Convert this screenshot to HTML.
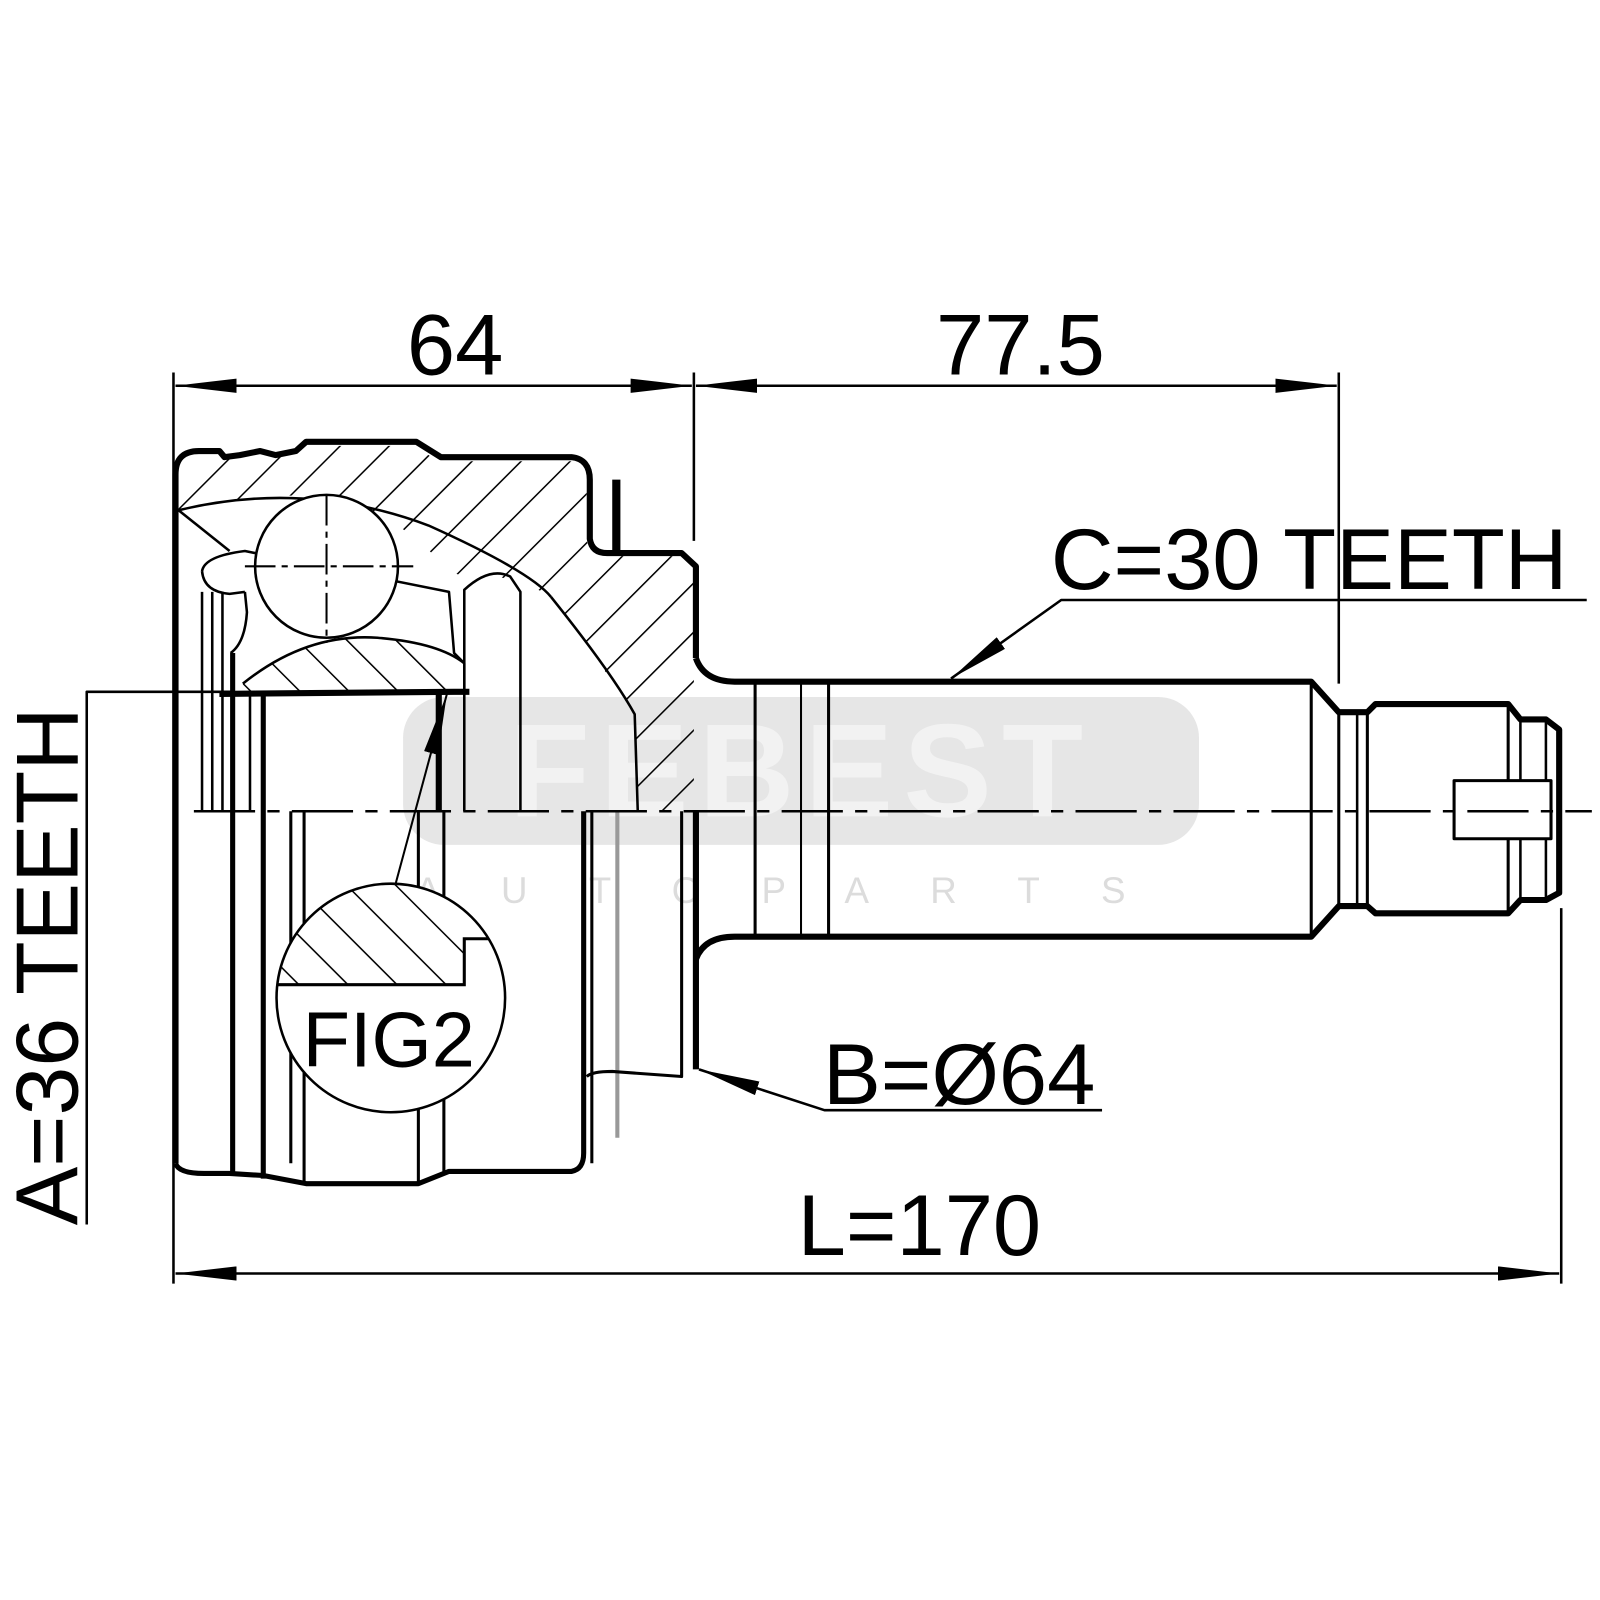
<!DOCTYPE html>
<html><head><meta charset="utf-8"><style>
html,body{margin:0;padding:0;background:#fff;}
svg{display:block;}
text{font-family:"Liberation Sans",sans-serif;fill:#000;}
</style></head><body>
<svg width="1600" height="1600" viewBox="0 0 1568 1568" xmlns="http://www.w3.org/2000/svg">
<defs>
<pattern id="h" patternUnits="userSpaceOnUse" width="34" height="34" patternTransform="rotate(45)">
<line x1="0" y1="0" x2="0" y2="34" stroke="#000" stroke-width="3"/>
</pattern>
<pattern id="h2" patternUnits="userSpaceOnUse" width="34" height="34" patternTransform="rotate(-45)">
<line x1="0" y1="0" x2="0" y2="34" stroke="#000" stroke-width="3"/>
</pattern>
<marker id="a" viewBox="0 0 60 14" refX="60" refY="7" markerWidth="60" markerHeight="14" markerUnits="userSpaceOnUse" orient="auto-start-reverse"><path d="M0,0 L60,7 L0,14 z" fill="#000"/></marker>
</defs>

<!-- watermark -->
<rect x="395" y="683" width="780" height="145" rx="40" fill="#e6e6e6"/>
<text x="785" y="800" font-size="130" font-weight="bold" text-anchor="middle" style="fill:#f2f2f2" letter-spacing="10">FEBEST</text>
<text x="785" y="885" font-size="36" text-anchor="middle" style="fill:#dcdcdc" letter-spacing="60">AUTOPARTS</text>

<!-- hatched regions -->
<path d="M175,465 Q175,445 195,445 L290,445 L300,437 L405,437 L430,452 L562,452 Q575,455 575,470 L575,530 Q578,545 595,545 L668,545 L680,558 L680,795 L625,795 L622,700 L560,610 L540,585 Q500,560 455,565 L440,560 Q380,490 300,485 Q220,488 175,500 z" fill="url(#h)"/>
<path d="M238,670 Q300,620 370,625 Q430,630 455,650 L455,678 L238,678 z" fill="url(#h2)"/>

<g fill="none" stroke="#000" stroke-linejoin="round">
<path d="M172,1140 L172,465 Q172,442 195,442 L215,442 L220,448 L235,446 L255,442 L270,446 L290,442 L300,433 L408,433 L432,448 L560,448 Q578,450 578,470 L578,528 Q580,542 595,542 L668,542 L682,555 L682,645" stroke-width="6"/>
<line x1="604" y1="470" x2="604" y2="540" stroke-width="8"/>
<path d="M175,500 Q300,470 420,515 Q520,560 540,585" stroke-width="2.5"/>
<path d="M175,500 L225,540" stroke-width="2.5"/>
<path d="M540,585 Q600,660 622,700 L625,795" stroke-width="2.5"/>
<path d="M198,560 Q200,545 240,540 L440,580 L445,640 L455,650 L455,678" stroke-width="2.5"/>
<path d="M198,560 Q200,580 225,582 L240,580" stroke-width="2.5"/>
<path d="M238,670 Q300,620 370,625 Q430,630 455,650" stroke-width="2.5"/>
<path d="M215,680 L445,678 L460,678" stroke-width="6"/>
<circle cx="320" cy="555" r="70" stroke-width="2.5" fill="#fff"/>
<line x1="320" y1="485" x2="320" y2="630" stroke-width="2" stroke-dasharray="30 6 6 6"/>
<line x1="240" y1="555" x2="405" y2="555" stroke-width="2" stroke-dasharray="30 6 6 6"/>
<path d="M455,795 L455,578 Q480,555 500,565 L510,580 L510,795" stroke-width="2.5"/>
<path d="M430,795 L430,678" stroke-width="6"/>
<line x1="198" y1="580" x2="198" y2="795" stroke-width="2.5"/>
<line x1="208" y1="580" x2="208" y2="795" stroke-width="2.5"/>
<line x1="218" y1="580" x2="218" y2="795" stroke-width="2.5"/>
<line x1="228" y1="640" x2="228" y2="1150" stroke-width="5"/>
<line x1="258" y1="678" x2="258" y2="1155" stroke-width="5"/>
<line x1="245" y1="678" x2="245" y2="795" stroke-width="2.5"/>
<path d="M226,640 Q240,630 242,600 L240,580" stroke-width="2.5"/>
<path d="M172,1140 Q175,1150 200,1150 L225,1150 L258,1152 L300,1160 L410,1160 L440,1148 L560,1148 Q572,1146 572,1130 L572,795" stroke-width="5"/>
<path d="M285,795 L285,1140 M298,795 L298,1160 M410,795 L410,1160 M435,795 L435,1150" stroke-width="3"/>
<line x1="580" y1="795" x2="580" y2="1140" stroke-width="3"/>
<line x1="605" y1="795" x2="605" y2="1115" stroke-width="4" stroke="#999"/>
<path d="M575,1055 Q580,1050 600,1050 L668,1055 L668,795" stroke-width="3"/>
<path d="M682,795 L682,1048" stroke-width="6"/>
<path d="M682,645 Q690,668 720,668 L1285,668 L1312,698 L1340,698 L1348,690 L1478,690 L1490,705 L1515,705 L1528,715 L1528,875 L1515,882 L1490,882 L1478,895 L1348,895 L1340,888 L1312,888 L1285,918 L720,918 Q690,918 682,940" stroke-width="6"/>
<line x1="812" y1="668" x2="812" y2="918" stroke-width="3"/>
<line x1="740" y1="668" x2="740" y2="918" stroke-width="3"/>
<line x1="785" y1="668" x2="785" y2="918" stroke-width="2"/>
<line x1="1285" y1="668" x2="1285" y2="918" stroke-width="3"/>
<line x1="1312" y1="698" x2="1312" y2="888" stroke-width="3"/>
<line x1="1330" y1="698" x2="1330" y2="888" stroke-width="2.5"/>
<line x1="1340" y1="698" x2="1340" y2="888" stroke-width="3"/>
<line x1="1478" y1="690" x2="1478" y2="895" stroke-width="3"/>
<line x1="1490" y1="705" x2="1490" y2="882" stroke-width="2.5"/>
<line x1="1515" y1="705" x2="1515" y2="882" stroke-width="2.5"/>
<rect x="1425" y="765" width="95" height="57" stroke-width="3" fill="#fff"/>
<line x1="190" y1="795" x2="1560" y2="795" stroke-width="2.5" stroke-dasharray="60 12 12 12"/>
<line x1="170" y1="365" x2="170" y2="1258" stroke-width="2.5"/>
<line x1="680" y1="365" x2="680" y2="530" stroke-width="2.5"/>
<line x1="1312" y1="365" x2="1312" y2="670" stroke-width="2.5"/>
<line x1="1530" y1="890" x2="1530" y2="1258" stroke-width="2.5"/>
<line x1="172" y1="378" x2="678" y2="378" stroke-width="2.5" marker-start="url(#a)" marker-end="url(#a)"/>
<line x1="682" y1="378" x2="1310" y2="378" stroke-width="2.5" marker-start="url(#a)" marker-end="url(#a)"/>
<line x1="172" y1="1248" x2="1528" y2="1248" stroke-width="2.5" marker-start="url(#a)" marker-end="url(#a)"/>
<path d="M85,1200 L85,678 L230,678" stroke-width="2.5"/>
<path d="M1555,588 L1040,588 L932,665" stroke-width="2.5" marker-end="url(#a)"/>
<path d="M1080,1088 L808,1088 L685,1048" stroke-width="2.5" marker-end="url(#a)"/>
<path d="M388,865 L438,680" stroke-width="2" marker-end="url(#a)"/>
</g>

<circle cx="383" cy="978" r="112" fill="#fff" stroke="#000" stroke-width="2.5"/>
<clipPath id="fc"><circle cx="383" cy="978" r="111"/></clipPath>
<g clip-path="url(#fc)">
<path d="M260,860 L500,860 L500,920 L455,920 L455,965 L260,965 z" fill="url(#h2)"/>
<path d="M270,965 L455,965 L455,920 L500,920" fill="none" stroke="#000" stroke-width="3"/>
</g>
<text x="381" y="1045" font-size="76" text-anchor="middle">FIG2</text>

<text x="446" y="367" font-size="85" text-anchor="middle">64</text>
<text x="1000" y="367" font-size="85" text-anchor="middle">77.5</text>
<text x="1283" y="577" font-size="85" text-anchor="middle">C=30 TEETH</text>
<text x="940" y="1082" font-size="85" text-anchor="middle">B=Ø64</text>
<text x="901" y="1230" font-size="85" text-anchor="middle">L=170</text>
<text transform="translate(76,947) rotate(-90)" font-size="86" text-anchor="middle">A=36 TEETH</text>
</svg>
</body></html>
